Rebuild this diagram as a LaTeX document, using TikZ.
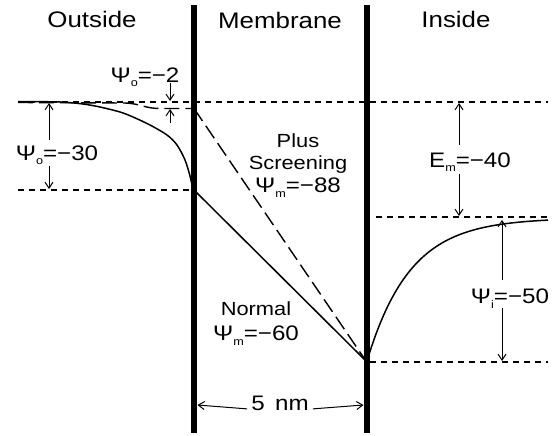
\documentclass[tikz,border=0pt]{standalone}
\usepackage{fontspec}
\setmainfont{Liberation Sans}[FakeStretch=1.15]
\usetikzlibrary{arrows.meta}
\newcommand{\lsub}[1]{\raisebox{-5pt}{\fontsize{11}{11}\selectfont #1}}
\begin{document}
\begin{tikzpicture}[x=1pt,y=-1pt,
  refline/.style={dash pattern=on 6pt off 5pt, line width=1.1pt},
  curveline/.style={line width=1.5pt},
  scrline/.style={dash pattern=on 15pt off 6pt, line width=1.4pt},
  barline/.style={line width=6.5pt},
  dimarrow/.style={line width=1pt, -{Straight Barb[length=6pt,width=8pt]}},
  hdr/.style={font=\fontsize{22.5}{27}\selectfont, anchor=base, inner sep=0pt},
  txt/.style={font=\fontsize{19}{23}\selectfont, anchor=base, inner sep=0pt},
  val/.style={font=\fontsize{21}{25}\selectfont, anchor=base, inner sep=0pt}]
\useasboundingbox (0,0) rectangle (560,436);

% reference dashed lines
\draw[refline] (18,102) -- (548,102);
\draw[refline] (18,190) -- (191,190);
\draw[refline] (376,217) -- (548,217);
\draw[refline] (370,362) -- (548,362);

% key points
\coordinate (lstart) at (18,101.5);
\coordinate (lnorm) at (194,190);
\coordinate (lscr) at (194,108.5);
\coordinate (rmeet) at (366,361);

% outside potential curves
\draw[curveline] plot[smooth] coordinates {(18,101.5) (60,102) (83,104) (100,107) (120,112) (133,117) (150,125) (167,135) (177,145) (185,160) (190,176) (193,190)};
\draw[scrline] (18,102.5) -- (125,103) .. controls (140,103.5) and (145,108.5) .. (160,108.5) -- (lscr);

% membrane profiles
\draw[curveline] (lnorm) -- (rmeet);
\draw[scrline] (lscr) -- (rmeet);

% inside curve
\draw[curveline] plot[domain=367:548, samples=80] (\x, {218+143*exp(-(\x-367)/43)});

% membrane bars
\draw[barline] (194,5) -- (194,433);
\draw[barline] (367,5) -- (367,433);

% headers
\node[hdr] (outside) at (92,28) {Outside};
\node[hdr] (membrane) at (280,29) {Membrane};
\node[hdr] (inside) at (456,28) {Inside};

% labels
\node[val] (psio2) at (145,82) {Ψ\lsub{o}=−2};
\node[val] (psio30) at (57,160) {Ψ\lsub{o}=−30};
\node[val] (em) at (470,167) {E\lsub{m}=−40};
\node[val] (psii) at (510,303) {Ψ\lsub{i}=−50};
\node[txt] (plus) at (298,147) {Plus};
\node[txt] (screen) at (298,169) {Screening};
\node[val] (psim88) at (298,192) {Ψ\lsub{m}=−88};
\node[txt] (normal) at (256,315) {Normal};
\node[val] (psim60) at (256,340) {Ψ\lsub{m}=−60};
\node[val] (fivenm) at (280,410) {5\hspace{0.5em}nm};

% dimension arrows
\coordinate (a2s) at (170,83);  \coordinate (a2e) at (170,101);
\coordinate (b2s) at (170,123); \coordinate (b2e) at (170,109);
\draw[dimarrow] (a2s) -- (a2e);
\draw[dimarrow] (b2s) -- (b2e);

\coordinate (a30s) at (49,140); \coordinate (a30e) at (49,103);
\coordinate (b30s) at (49,166); \coordinate (b30e) at (49,189);
\draw[dimarrow] (a30s) -- (a30e);
\draw[dimarrow] (b30s) -- (b30e);

\coordinate (a40s) at (459,145); \coordinate (a40e) at (459,103);
\coordinate (b40s) at (459,174); \coordinate (b40e) at (459,216);
\draw[dimarrow] (a40s) -- (a40e);
\draw[dimarrow] (b40s) -- (b40e);

\coordinate (a50s) at (502,280); \coordinate (a50e) at (502,220);
\coordinate (b50s) at (502,308); \coordinate (b50e) at (502,361);
\draw[dimarrow] (a50s) -- (a50e);
\draw[dimarrow] (b50s) -- (b50e);

\coordinate (nml) at (197.5,405); \coordinate (nmr) at (363.5,405);
\draw[dimarrow] ([xshift=-4pt,yshift=-6pt]fivenm.west) -- (nml);
\draw[dimarrow] ([xshift=4pt,yshift=-6pt]fivenm.east) -- (nmr);
\end{tikzpicture}
\end{document}
